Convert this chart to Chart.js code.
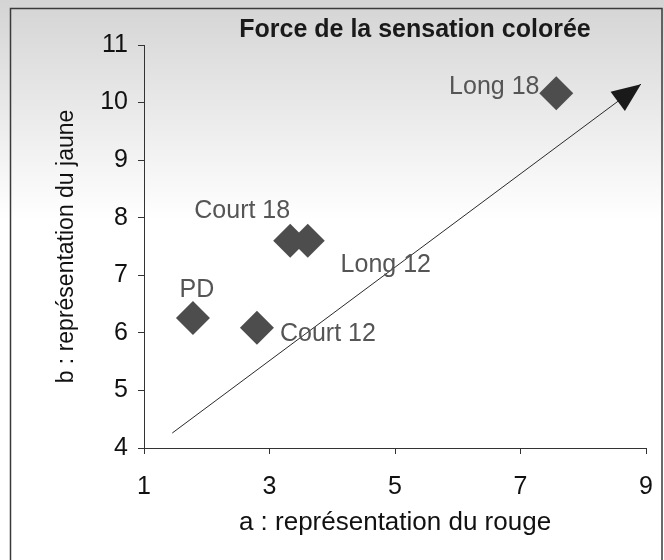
<!DOCTYPE html>
<html lang="fr">
<head>
<meta charset="utf-8">
<title>Force de la sensation colorée</title>
<script src="https://cdn.jsdelivr.net/npm/chart.js@4.4.1/dist/chart.umd.min.js"></script>
<style>
  html, body { margin: 0; padding: 0; background: #ffffff; }
  #chart { display: block; }
</style>
</head>
<body>
<canvas id="chart" width="664" height="560"></canvas>
<script>
// -----------------------------
// Data
// -----------------------------
const categories = ["PD", "Court 12", "Court 18", "Long 12", "Long 18"];
const rougeValues = [1.78, 2.8, 3.33, 3.61, 7.57];
const jauneValues = [6.26, 6.09, 7.6, 7.6, 10.16];

// trend arrow (start, tip)
const arrowX = [1.45, 8.92];
const arrowY = [4.26, 10.32];

const xTickValues = [1, 3, 5, 7, 9];
const yTickValues = [4, 5, 6, 7, 8, 9, 10, 11];

const chartTitle = "Force de la sensation colorée";
const xTitle = "a : représentation du rouge";
const yTitle = "b : représentation du jaune";

// -----------------------------
// Label placement (pixels from the marker centre)
// -----------------------------
const labelShift = {
  "PD": [4, -28],
  "Court 12": [71, 6],
  "Court 18": [-48, -30],
  "Long 12": [78, 24],
  "Long 18": [-62, -6]
};

const FONT = "'Liberation Sans', Arial, sans-serif";

// -----------------------------
// Plugins
// -----------------------------
const backgroundPlugin = {
  id: "backgroundPlugin",
  beforeDraw(chart) {
    const { ctx, width, height } = chart;
    ctx.save();
    const grad = ctx.createLinearGradient(0, 0, 0, 220);
    grad.addColorStop(0, "#d4d4d4");
    grad.addColorStop(1, "#ffffff");
    ctx.fillStyle = grad;
    ctx.fillRect(0, 0, width, height);
    // frame
    ctx.strokeStyle = "#3a3a3a";
    ctx.lineWidth = 1.5;
    ctx.strokeRect(10.5, 8.5, 651.5, height + 10);
    // title
    ctx.fillStyle = "#1a1a1a";
    ctx.font = "bold 25px " + FONT;
    ctx.textAlign = "center";
    ctx.textBaseline = "middle";
    ctx.fillText(chartTitle, 415, 30);
    ctx.restore();
  }
};

const labelPlugin = {
  id: "labelPlugin",
  afterDatasetsDraw(chart) {
    const { ctx } = chart;
    const meta = chart.getDatasetMeta(1);
    ctx.save();
    ctx.font = "25px " + FONT;
    ctx.fillStyle = "#555555";
    ctx.textAlign = "center";
    ctx.textBaseline = "middle";
    meta.data.forEach((pt, i) => {
      const name = categories[i];
      const s = labelShift[name] || [0, 0];
      ctx.fillText(name, pt.x + s[0], pt.y + s[1]);
    });
    ctx.restore();
  }
};

const arrowPlugin = {
  id: "arrowPlugin",
  afterDatasetsDraw(chart) {
    const { ctx } = chart;
    const pts = chart.getDatasetMeta(0).data;
    if (pts.length < 2) return;
    const a = pts[pts.length - 2];
    const b = pts[pts.length - 1];
    const ang = Math.atan2(b.y - a.y, b.x - a.x);
    const len = 29;
    const half = 12;
    const bx = b.x - len * Math.cos(ang);
    const by = b.y - len * Math.sin(ang);
    ctx.save();
    ctx.fillStyle = "#1a1a1a";
    ctx.beginPath();
    ctx.moveTo(b.x, b.y);
    ctx.lineTo(bx + half * Math.sin(ang), by - half * Math.cos(ang));
    ctx.lineTo(bx - half * Math.sin(ang), by + half * Math.cos(ang));
    ctx.closePath();
    ctx.fill();
    ctx.restore();
  }
};

// -----------------------------
// Chart
// -----------------------------
function renderChart() {
  const ctx = document.getElementById("chart").getContext("2d");

  const arrowData = arrowX.map((x, i) => ({ x: x, y: arrowY[i] }));
  const pointData = rougeValues.map((x, i) => ({ x: x, y: jauneValues[i] }));

  new Chart(ctx, {
    type: "scatter",
    data: {
      datasets: [
        {
          type: "line",
          label: "tendance",
          data: arrowData,
          borderColor: "#2a2a2a",
          borderWidth: 1,
          pointRadius: 0,
          fill: false,
          tension: 0
        },
        {
          label: "échantillons",
          data: pointData,
          pointStyle: "rectRot",
          pointRadius: 17,
          pointHoverRadius: 17,
          backgroundColor: "#4d4d4d",
          borderColor: "#4d4d4d",
          borderWidth: 0
        }
      ]
    },
    options: {
      responsive: false,
      animation: false,
      layout: { padding: { top: 45, right: 18, left: 0, bottom: 0 } },
      plugins: {
        legend: { display: false },
        tooltip: { enabled: false },
        title: { display: false }
      },
      scales: {
        x: {
          type: "linear",
          min: 1,
          max: 9,
          afterBuildTicks: (scale) => { scale.ticks = xTickValues.map(v => ({ value: v })); },
          afterFit: (scale) => {
            scale.height = 112;
            scale.paddingLeft = 0;
            scale.paddingRight = 0;
          },
          grid: { drawOnChartArea: false, drawTicks: true, tickLength: 6, color: "#333333" },
          border: { display: true, color: "#333333", width: 1 },
          ticks: {
            color: "#111111",
            padding: 18,
            maxRotation: 0,
            font: { family: FONT, size: 25 }
          },
          title: {
            display: true,
            text: xTitle,
            color: "#111111",
            padding: { top: 0, bottom: 22 },
            font: { family: FONT, size: 26 }
          }
        },
        y: {
          type: "linear",
          min: 4,
          max: 11,
          afterBuildTicks: (scale) => { scale.ticks = yTickValues.map(v => ({ value: v })); },
          afterFit: (scale) => { scale.width = 144; },
          grid: { drawOnChartArea: false, drawTicks: true, tickLength: 6, color: "#333333" },
          border: { display: true, color: "#333333", width: 1 },
          ticks: {
            color: "#111111",
            padding: 10,
            font: { family: FONT, size: 25 }
          },
          title: {
            display: true,
            text: yTitle,
            color: "#111111",
            padding: { top: 53, bottom: 0 },
            font: { family: FONT, size: 23 }
          }
        }
      }
    },
    plugins: [backgroundPlugin, arrowPlugin, labelPlugin]
  });
}

// -----------------------------
// Initialize
// -----------------------------
document.addEventListener("DOMContentLoaded", () => {
  renderChart();
});
</script>
</body>
</html>
